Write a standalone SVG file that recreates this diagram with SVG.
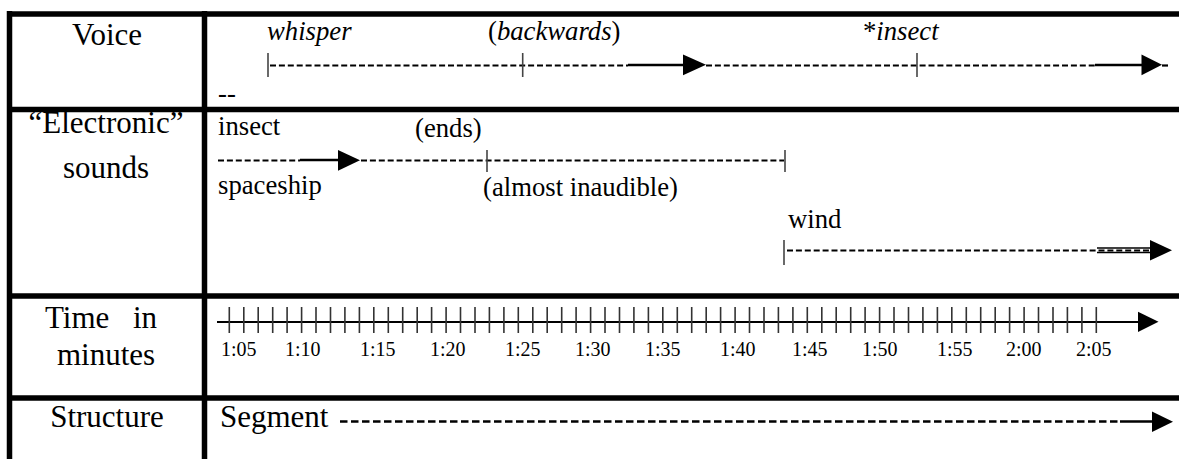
<svg xmlns="http://www.w3.org/2000/svg" width="1179" height="459" viewBox="0 0 1179 459">
<style>
.grid{stroke:#000;stroke-width:5.5;fill:none}
.hd{font-family:"Liberation Serif","Times New Roman",serif;font-size:31px;fill:#000;text-anchor:middle}
.tx{font-family:"Liberation Serif","Times New Roman",serif;font-size:26.7px;fill:#000}
.it{font-style:italic}
.tl{font-family:"Liberation Serif","Times New Roman",serif;font-size:20px;fill:#000}
.dash{stroke:#000;stroke-width:2.2;stroke-dasharray:6 2.9;fill:none}
.dashL{stroke:#000;stroke-width:2.6;stroke-dasharray:7.5 3.5;fill:none}
.solid{stroke:#000;stroke-width:2.5;fill:none}
.bar{stroke:#444;stroke-width:1.6}
.tick{stroke:#333;stroke-width:1.6}
.head{fill:#000}
</style>
<rect width="1179" height="459" fill="#fff"/>
<g id="table">
<line class="grid" x1="9.5" y1="11" x2="9.5" y2="459"/>
<line class="grid" x1="204.5" y1="11" x2="204.5" y2="459"/>
<line class="grid" x1="7" y1="14" x2="1179" y2="14"/>
<line class="grid" x1="7" y1="109.5" x2="1179" y2="109.5"/>
<line class="grid" x1="7" y1="296" x2="1179" y2="296"/>
<line class="grid" x1="7" y1="398" x2="1179" y2="398"/>
</g>
<g id="row-voice">
<text class="hd" x="107" y="45">Voice</text>
<text class="tx it" x="267" y="40">whisper</text>
<text class="tx" x="488" y="40">(<tspan class="it">backwards</tspan>)</text>
<text class="tx" x="863" y="40">*<tspan class="it">insect</tspan></text>
<text class="tx" x="218" y="102">--</text>
</g>
<g id="row-electronic">
<text class="hd" x="106" y="133">“Electronic”</text>
<text class="hd" x="106" y="178">sounds</text>
<text class="tx" x="218" y="135">insect</text>
<text class="tx" x="415" y="137">(ends)</text>
<text class="tx" x="218" y="194">spaceship</text>
<text class="tx" x="483" y="196">(almost inaudible)</text>
<text class="tx" x="788" y="228">wind</text>
</g>
<g id="row-time">
<text class="hd" x="45" y="328" style="text-anchor:start">Time<tspan x="133">in</tspan></text>
<text class="hd" x="106" y="365">minutes</text>
<g class="tl">
<text x="221" y="356">1:05</text>
<text x="285" y="356">1:10</text>
<text x="360" y="356">1:15</text>
<text x="430" y="356">1:20</text>
<text x="505" y="356">1:25</text>
<text x="575" y="356">1:30</text>
<text x="645" y="356">1:35</text>
<text x="720" y="356">1:40</text>
<text x="792" y="356">1:45</text>
<text x="862" y="356">1:50</text>
<text x="937" y="356">1:55</text>
<text x="1006" y="356">2:00</text>
<text x="1076" y="356">2:05</text>
</g>
</g>
<g id="row-structure">
<text class="hd" x="107" y="427">Structure</text>
<text class="hd" x="220" y="427" style="text-anchor:start">Segment</text>
</g>
<g id="connectors">
<line class="dash" x1="270" y1="65.5" x2="628" y2="65.5"/>
<line class="solid" x1="628" y1="65" x2="684" y2="65"/>
<path class="head" d="M683 54.5 L706 64.8 L683 75.2 Z"/>
<line class="dash" x1="706" y1="65.5" x2="1095" y2="65.5"/>
<line class="solid" x1="1095" y1="65" x2="1142" y2="65"/>
<path class="head" d="M1141.5 54.5 L1162 64.8 L1141.5 75.2 Z"/>
<line class="dash" x1="1162" y1="65.5" x2="1168" y2="65.5"/>
<line class="bar" x1="268" y1="53" x2="268" y2="77"/>
<line class="bar" x1="522.7" y1="53" x2="522.7" y2="77"/>
<line class="bar" x1="917" y1="53" x2="917" y2="77"/>
<line class="dash" x1="218" y1="160.5" x2="300" y2="160.5"/>
<line class="solid" x1="300" y1="160" x2="339" y2="160"/>
<path class="head" d="M338 150 L360 160.3 L338 170.7 Z"/>
<line class="dash" x1="361" y1="160.5" x2="784" y2="160.5"/>
<line class="bar" x1="487" y1="150" x2="487" y2="172"/>
<line class="bar" x1="785" y1="150" x2="785" y2="172"/>
<line class="bar" x1="784" y1="240" x2="784" y2="265"/>
<line class="dash" x1="787" y1="250.5" x2="1150" y2="250.5"/>
<line stroke="#000" stroke-width="1.4" x1="1097" y1="248" x2="1151" y2="248"/>
<line stroke="#000" stroke-width="1.4" x1="1097" y1="252.5" x2="1151" y2="252.5"/>
<path class="head" d="M1150 240 L1172 250.3 L1150 260.6 Z"/>
<line stroke="#000" stroke-width="2" x1="217" y1="322" x2="1140" y2="322"/>
<path class="head" d="M1138 311.7 L1158.5 321.8 L1138 331.9 Z"/>
<path class="tick" d="M229.3 307V333M243.8 307V333M258.2 307V333M272.7 307V333M287.1 307V333M301.6 307V333M316 307V333M330.5 307V333M344.9 307V333M359.4 307V333M373.8 307V333M388.3 307V333M402.7 307V333M417.2 307V333M431.6 307V333M446.1 307V333M460.5 307V333M475 307V333M489.4 307V333M503.9 307V333M518.3 307V333M532.8 307V333M547.2 307V333M561.7 307V333M576.1 307V333M590.6 307V333M605 307V333M619.5 307V333M633.9 307V333M648.4 307V333M662.8 307V333M677.3 307V333M691.7 307V333M706.2 307V333M720.6 307V333M735.1 307V333M749.5 307V333M764 307V333M778.4 307V333M792.9 307V333M807.3 307V333M821.8 307V333M836.2 307V333M850.7 307V333M865.1 307V333M879.6 307V333M894 307V333M908.5 307V333M922.9 307V333M937.4 307V333M951.8 307V333M966.3 307V333M980.7 307V333M995.2 307V333M1009.6 307V333M1024.1 307V333M1038.5 307V333M1053 307V333M1067.4 307V333M1081.9 307V333M1096.3 307V333"/>
<line class="dashL" x1="340" y1="421.5" x2="1120" y2="421.5"/>
<line class="solid" x1="1120" y1="421.5" x2="1153" y2="421.5"/>
<path class="head" d="M1152 411.5 L1173 421.7 L1152 432 Z"/>
</g>
</svg>
